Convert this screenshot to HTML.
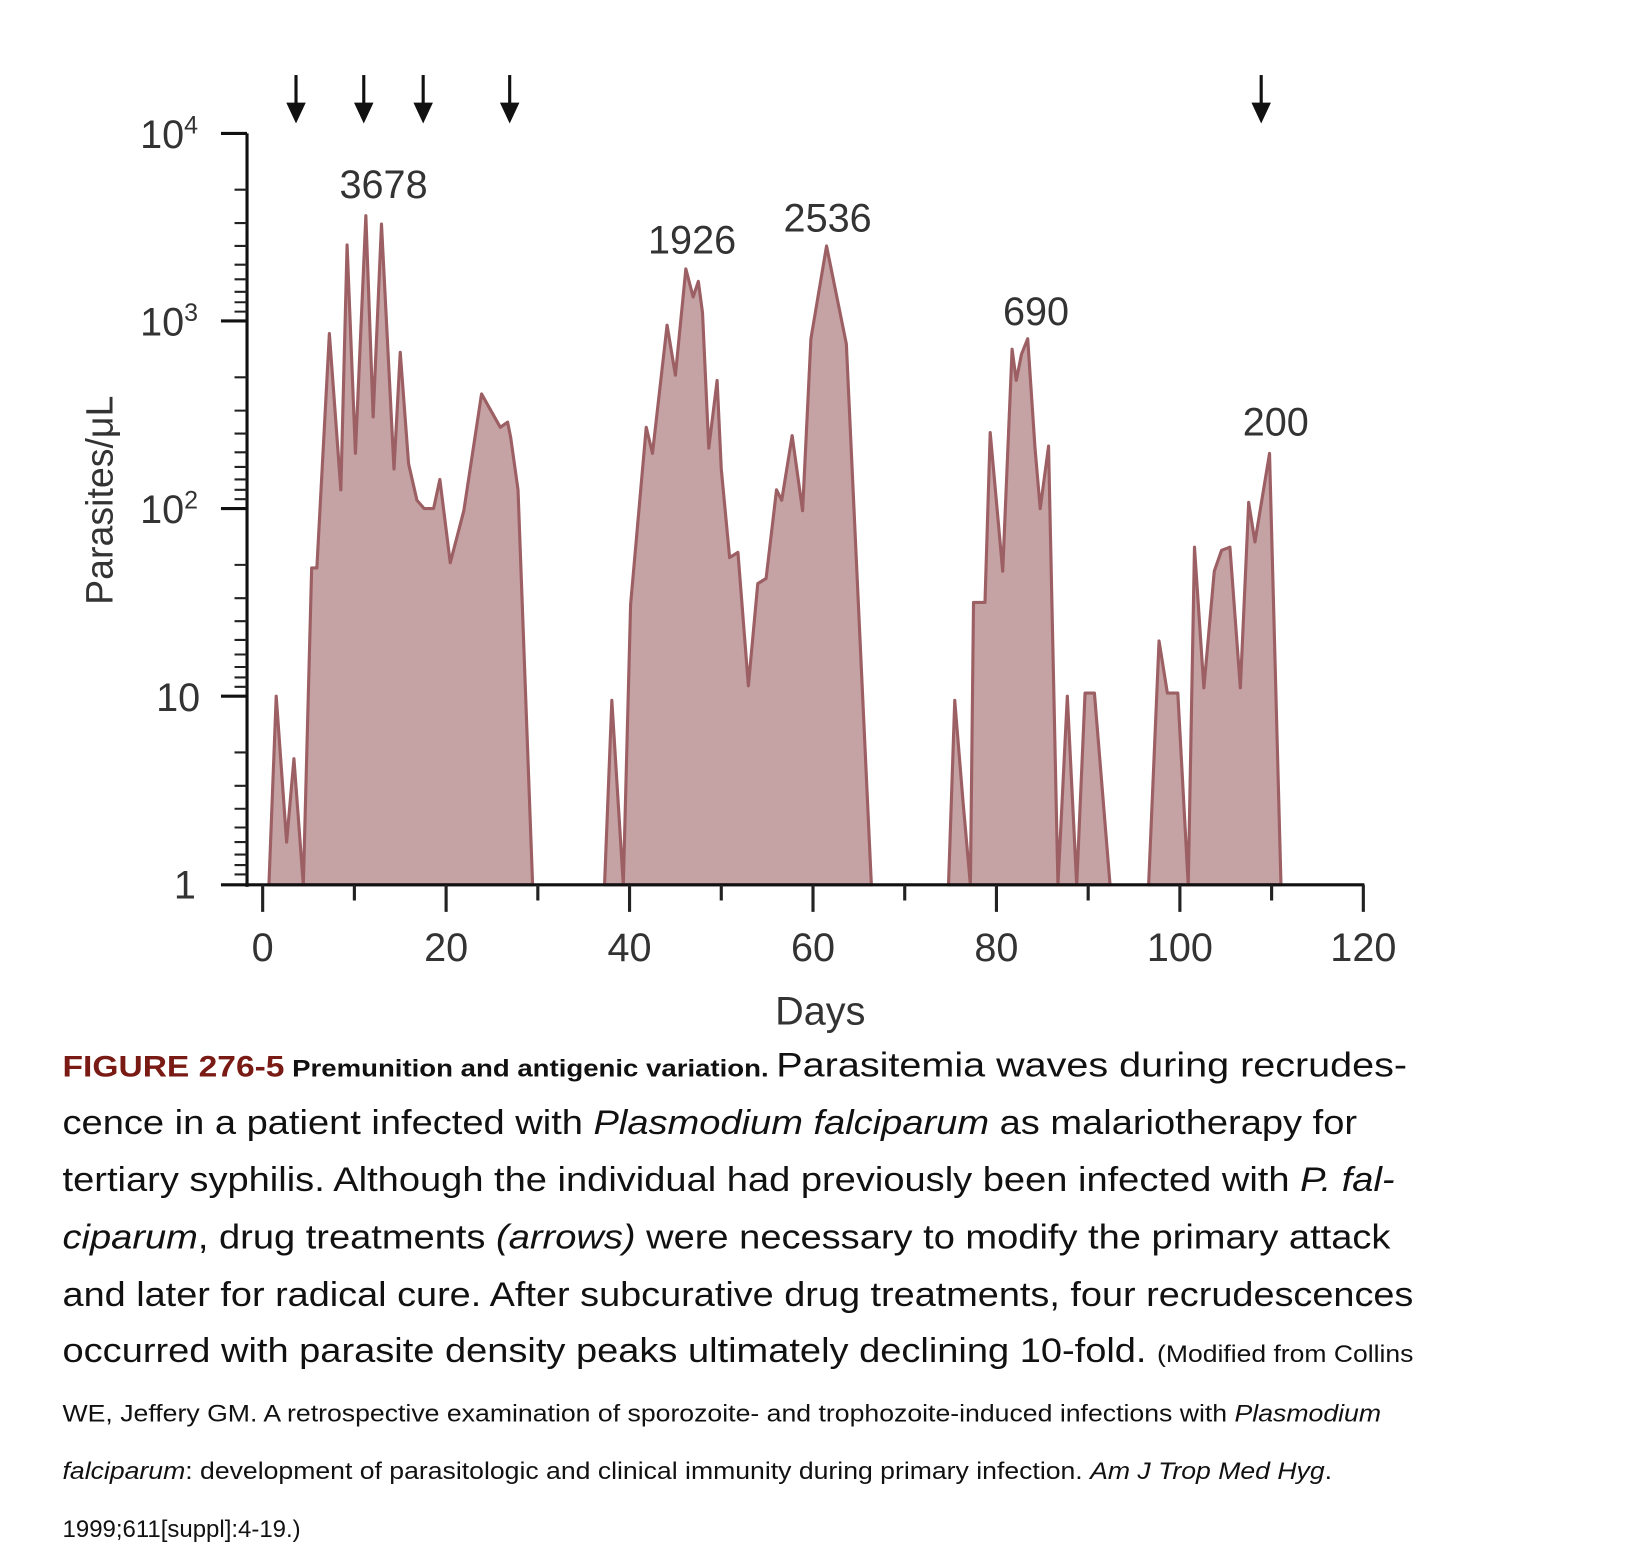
<!DOCTYPE html>
<html><head><meta charset="utf-8"><style>
html,body{margin:0;padding:0;background:#fff;}
svg{display:block;}
text{font-family:"Liberation Sans",Arial,sans-serif;}
</style></head><body>
<svg width="1626" height="1556" viewBox="0 0 1560 1493" preserveAspectRatio="none" xmlns="http://www.w3.org/2000/svg">
<rect width="1560" height="1493" fill="#fff"/>
<g fill="#c5a2a3" stroke="#9c5f63" stroke-width="3" stroke-linejoin="round">
<polygon points="258,849 265,668 275,808 282,728 291,849 299,545 304,545 316,320 327,470 333,235 341,435 351,207 358,400 366,215 378,450 384,338 392,445 400,480 407,488 416,488 422,460 432,540 445,490 462,378 480,410 487,405 490,420 497,470 511,849"/>
<polygon points="580,849 587,672 598,849 605,580 620,410 626,435 640,312 648,360 658,258 665,285 670,270 674,300 680,430 688,365 692,450 700,535 708,530 718,658 727,560 735,555 745,470 750,480 760,418 770,490 778,325 793,236 812,330 836,849"/>
<polygon points="910,849 916,672 924,770 931,849 934,578 945,578 950,415 962,548 971,335 975,365 980,340 986,325 993,430 998,488 1006,428 1015,849 1024,668 1033,849 1041,665 1050,665 1065,849"/>
<polygon points="1102,849 1112,615 1120,665 1130,665 1140,849 1146,525 1155,660 1165,548 1172,528 1180,525 1190,660 1198,482 1204,520 1218,435 1229,849"/>
</g>
<g stroke="#111" stroke-width="3" fill="none">
<line x1="237" y1="128" x2="237" y2="851"/>
<line x1="212" y1="849" x2="1309" y2="849"/>
<line x1="212" y1="128" x2="237" y2="128"/>
<line x1="212" y1="308" x2="237" y2="308"/>
<line x1="212" y1="488" x2="237" y2="488"/>
<line x1="212" y1="668" x2="237" y2="668"/>
</g>
<g stroke="#222" stroke-width="2">
<path d="M225,182H237M225,214H237M225,236H237M225,254H237M225,268H237M225,280H237M225,290H237M225,299H237
M225,362H237M225,394H237M225,416H237M225,434H237M225,448H237M225,460H237M225,470H237M225,479H237
M225,542H237M225,574H237M225,596H237M225,614H237M225,628H237M225,640H237M225,650H237M225,659H237
M225,722H237M225,754H237M225,776H237M225,794H237M225,808H237M225,820H237M225,830H237M225,839H237"/>
<path d="M252,849V875M340,849V864M428,849V875M516,849V864M604,849V875M692,849V864M780,849V875M868,849V864M956,849V875M1044,849V864M1132,849V875M1220,849V864M1308,849V875" stroke-width="3"/>
</g>
<g font-size="38" fill="#333" text-anchor="middle">
<text x="252" y="922">0</text><text x="428" y="922">20</text><text x="604" y="922">40</text>
<text x="780" y="922">60</text><text x="956" y="922">80</text><text x="1132" y="922">100</text><text x="1308" y="922">120</text>
<text x="787" y="983">Days</text>
<text x="368" y="190">3678</text><text x="664" y="243">1926</text><text x="794" y="222">2536</text>
<text x="994" y="312">690</text><text x="1224" y="418">200</text>
</g>
<g font-size="38" fill="#333" text-anchor="end">
<text x="190" y="142">10<tspan font-size="24" dy="-14">4</tspan></text>
<text x="190" y="322">10<tspan font-size="24" dy="-14">3</tspan></text>
<text x="190" y="502">10<tspan font-size="24" dy="-14">2</tspan></text>
<text x="192" y="682">10</text>
<text x="188" y="862">1</text>
</g>
<text font-size="36" fill="#333" text-anchor="middle" transform="translate(108,480) rotate(-90)">Parasites/μL</text>
<g fill="#111" stroke="#111" stroke-width="3">
<line x1="284" y1="72" x2="284" y2="104"/><polygon points="277,100 291,100 284,115"/>
<line x1="349" y1="72" x2="349" y2="104"/><polygon points="342,100 356,100 349,115"/>
<line x1="406" y1="72" x2="406" y2="104"/><polygon points="399,100 413,100 406,115"/>
<line x1="489" y1="72" x2="489" y2="104"/><polygon points="482,100 496,100 489,115"/>
<line x1="1210" y1="72" x2="1210" y2="104"/><polygon points="1203,100 1217,100 1210,115"/>
</g>
<g fill="#111" font-size="33">
<text x="60" y="1033" textLength="1290" lengthAdjust="spacingAndGlyphs"><tspan fill="#7a1a14" font-weight="bold" font-size="28">FIGURE 276-5</tspan><tspan font-weight="bold" font-size="23">   Premunition and antigenic variation. </tspan>Parasitemia waves during recrudes-</text>
<text x="60" y="1088" textLength="1242" lengthAdjust="spacingAndGlyphs">cence in a patient infected with <tspan font-style="italic">Plasmodium falciparum</tspan> as malariotherapy for</text>
<text x="60" y="1143" textLength="1278" lengthAdjust="spacingAndGlyphs">tertiary syphilis. Although the individual had previously been infected with <tspan font-style="italic">P. fal-</tspan></text>
<text x="60" y="1198" textLength="1274" lengthAdjust="spacingAndGlyphs"><tspan font-style="italic">ciparum</tspan>, drug treatments <tspan font-style="italic">(arrows)</tspan> were necessary to modify the primary attack</text>
<text x="60" y="1253" textLength="1296" lengthAdjust="spacingAndGlyphs">and later for radical cure. After subcurative drug treatments, four recrudescences</text>
<text x="60" y="1307" textLength="1296" lengthAdjust="spacingAndGlyphs">occurred with parasite density peaks ultimately declining 10-fold. <tspan font-size="23">(Modified from Collins</tspan></text>
</g>
<g fill="#111" font-size="23">
<text x="60" y="1364" textLength="1265" lengthAdjust="spacingAndGlyphs">WE, Jeffery GM. A retrospective examination of sporozoite- and trophozoite-induced infections with <tspan font-style="italic">Plasmodium</tspan></text>
<text x="60" y="1419" textLength="1218" lengthAdjust="spacingAndGlyphs"><tspan font-style="italic">falciparum</tspan>: development of parasitologic and clinical immunity during primary infection. <tspan font-style="italic">Am J Trop Med Hyg</tspan>.</text>
<text x="60" y="1475">1999;611[suppl]:4-19.)</text>
</g>
</svg>
</body></html>
